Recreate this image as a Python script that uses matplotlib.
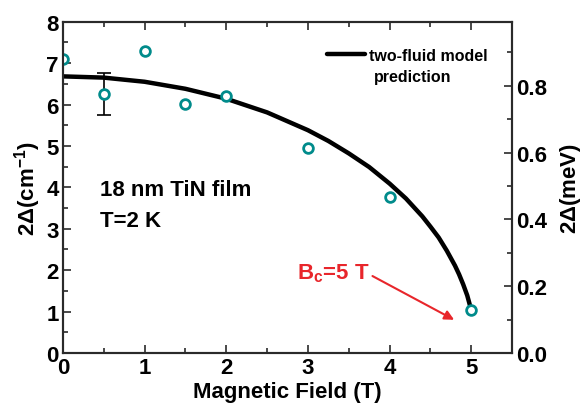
import matplotlib
matplotlib.use("Agg")
import matplotlib.pyplot as plt
from matplotlib.ticker import MultipleLocator

plt.rcParams['font.family'] = ['Liberation Sans', 'DejaVu Sans']
plt.rcParams['font.weight'] = 'bold'
plt.rcParams['mathtext.default'] = 'regular'

# data
field = [0, 0.5, 1, 1.5, 2, 3, 4, 5]
gap = [7.11, 6.25, 7.30, 6.02, 6.21, 4.96, 3.77, 1.03]
err_x = [0.5]
err_y = [6.25]
err_v = [0.5]

model_x = [0, 0.5, 1.0, 1.5, 2.0, 2.5, 3.0, 3.25, 3.5, 3.75, 4.0, 4.2, 4.4, 4.5,
           4.6, 4.7, 4.8, 4.85, 4.9, 4.95, 5.0]
model_y = [6.68, 6.65, 6.55, 6.38, 6.14, 5.81, 5.38, 5.12, 4.82, 4.49, 4.09, 3.73, 3.30, 3.05,
           2.79, 2.47, 2.11, 1.90, 1.66, 1.39, 1.03]

cm_to_mev = 0.12398
spine_col = '#2a2a2a'

fig = plt.figure(figsize=(5.88, 4.10), dpi=100)
ax = fig.add_axes([0.107, 0.1366, 0.764, 0.808])

ax.plot(model_x, model_y, color='black', lw=3.2, solid_capstyle='round', solid_joinstyle='round',
        label='two-fluid model', zorder=2)
ax.errorbar(err_x, err_y, yerr=err_v, fmt='none', ecolor='black', elinewidth=1.2,
            capsize=5, capthick=1.2, zorder=3)
ax.plot(field, gap, 'o', mfc='white', mec='#008B8B', mew=2, ms=7, ls='none', zorder=4)

ax.set_xlim(0, 5.5)
ax.set_ylim(0, 8)
ax.xaxis.set_major_locator(MultipleLocator(1))
ax.xaxis.set_minor_locator(MultipleLocator(0.5))
ax.yaxis.set_major_locator(MultipleLocator(1))
ax.yaxis.set_minor_locator(MultipleLocator(0.5))
ax.tick_params(axis='both', which='major', labelsize=16, length=6, width=1.2, direction='in', pad=3,
               color=spine_col)
ax.tick_params(axis='both', which='minor', length=3.5, width=1.2, direction='in', color=spine_col)
ax.tick_params(axis='x', which='both', top=True)
for s in ax.spines.values():
    s.set_linewidth(1.5)
    s.set_color(spine_col)
ax.set_xlabel('Magnetic Field (T)', fontsize=16, fontweight='bold', labelpad=2)
ax.set_ylabel(r'2$\Delta$(cm$^{-1}$)', fontsize=16, fontweight='bold', labelpad=2)

ax2 = ax.twinx()
ax2.set_ylim(0, 8 * cm_to_mev)
ax2.yaxis.set_major_locator(MultipleLocator(0.2))
ax2.yaxis.set_minor_locator(MultipleLocator(0.1))
ax2.tick_params(axis='y', which='major', labelsize=16, length=6, width=1.2, direction='in', pad=3,
                color=spine_col)
ax2.tick_params(axis='y', which='minor', length=3.5, width=1.2, direction='in', color=spine_col)
ax2.set_ylabel(r'2$\Delta$(meV)', fontsize=16, fontweight='bold', labelpad=8)
for s in ax2.spines.values():
    s.set_linewidth(1.5)
    s.set_color(spine_col)

leg = ax.legend(loc='center left', bbox_to_anchor=(0.588, 0.899), frameon=False,
                handlelength=2.4, handletextpad=0.25, borderaxespad=0.0, borderpad=0.0,
                prop={'weight': 'bold', 'size': 11.5})
ax.text(0.692, 0.836, 'prediction', transform=ax.transAxes, fontsize=11.5, fontweight='bold',
        va='center', ha='left')

ax.text(0.45, 3.95, '18 nm TiN film', fontsize=16, fontweight='bold', va='center')
ax.text(0.45, 3.2, 'T=2 K', fontsize=16, fontweight='bold', va='center')

ax.text(2.87, 1.95, r'B$_\mathregular{c}$=5 T', fontsize=16, fontweight='bold', color='#e8262b', va='center')
ax.annotate('', xy=(4.82, 0.77), xytext=(3.76, 1.89),
            arrowprops=dict(arrowstyle='-|>', color='#e8262b', lw=1.5, mutation_scale=14))

fig.savefig('out.png', dpi=100)
